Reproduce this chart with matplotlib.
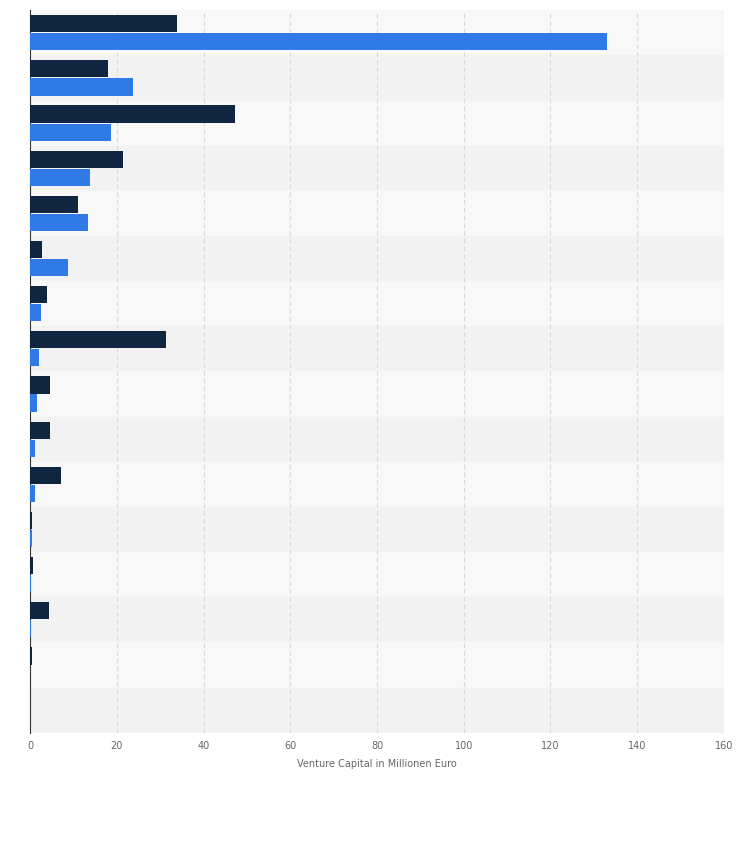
import numpy as np
import matplotlib.pyplot as plt

# values (no category labels shown)
dark_vals = [33.9, 18.0, 47.3, 21.4, 11.1, 2.8, 3.9, 31.3, 4.6, 4.6, 7.1, 0.5, 0.7, 4.4, 0.5, 0]
blue_vals = [133.0, 23.7, 18.7, 13.8, 13.4, 8.8, 2.5, 2.1, 1.6, 1.2, 1.2, 0.5, 0.3, 0.2, 0, 0]
x_ticks = [0, 20, 40, 60, 80, 100, 120, 140, 160]

fig = plt.figure(figsize=(7.54, 8.49), dpi=100)
ax = fig.add_axes([0.04, 0.137, 0.92, 0.851])

n = len(dark_vals)
y = np.arange(n)
for i in range(n):
    ax.axhspan(i - 0.5, i + 0.5, color="#f2f2f2" if i % 2 else "#f8f8f8", zorder=0)

h = 0.38
ax.barh(y - 0.2, dark_vals, height=h, color="#0f2540", zorder=3)
ax.barh(y + 0.2, blue_vals, height=h, color="#2f7ae5", zorder=3)

ax.set_ylim(n - 0.5, -0.5)
ax.set_xlim(0, 160)
ax.set_xticks(x_ticks)
ax.set_yticks([])
ax.grid(axis="x", color="#d8d8d8", linestyle=(0, (4, 3)), linewidth=0.8, zorder=1)
for s in ["top", "right", "bottom"]:
    ax.spines[s].set_visible(False)
ax.spines["left"].set_color("#333333")
ax.tick_params(axis="x", length=0, labelsize=7, colors="#666666", pad=6)
ax.set_xlabel("Venture Capital in Millionen Euro", fontsize=7, color="#666666", labelpad=6)

fig.savefig("out.png", dpi=100)
